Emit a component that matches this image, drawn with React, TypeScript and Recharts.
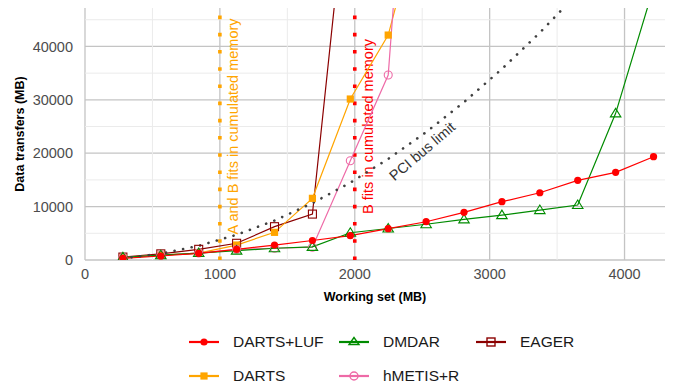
import React from "react";
import {
  LineChart, Line, XAxis, YAxis, CartesianGrid, ReferenceLine, ReferenceDot, Legend,
} from "recharts";

const workingSet = [281, 562, 843, 1124, 1405, 1686, 1967, 2248, 2529, 2810, 3091, 3372, 3653, 3934, 4215];
const dartsLuf = [310, 750, 1250, 2000, 2800, 3650, 4550, 5860, 7170, 8930, 10920, 12600, 14920, 16420, 19350];
const dmdar = [500, 900, 1300, 1750, 2200, 2450, 5100, 5900, 6700, 7600, 8400, 9350, 10300, 27470, 51000];
const eager = [550, 1150, 2000, 3130, 6240, 8600, 76000];
const darts = [400, 900, 1300, 2800, 5180, 11550, 30150, 42130, 69000];
const hmetis = [450, 900, 1300, 2000, 2200, 2400, 18600, 34640, 130000];
const pciLimit = [300, 1180, 2660, 4730, 7390, 10650, 14490, 18930, 23950, 29570, 35780, 42580, 49980];

const xTicks = [0, 1000, 2000, 3000, 4000];
const yTicks = [0, 10000, 20000, 30000, 40000];
const xMinor = [500, 1500, 2500, 3500];
const yMinor = [5000, 15000, 25000, 35000, 45000];

const C = {
  luf: "#FF0000",
  dmdar: "#008B00",
  eager: "#8B0000",
  darts: "#FFA500",
  hmetis: "#EE6AA7",
  pci: "#404040",
};

const data = workingSet.map((x, i) => ({
  x,
  luf: dartsLuf[i] ?? null,
  dmdar: dmdar[i] ?? null,
  eager: eager[i] ?? null,
  darts: darts[i] ?? null,
  hmetis: hmetis[i] ?? null,
  pci: pciLimit[i] ?? null,
}));

const FONT = "'Liberation Sans', Arial, sans-serif";

const CircleFilled = (p: any) => {
  if (p.cy == null || p.value == null) return null;
  return <circle key={p.key} cx={p.cx} cy={p.cy} r={3.6} fill={C.luf} stroke="none" />;
};
const TriangleOpen = (p: any) => {
  if (p.cy == null || p.value == null) return null;
  const s = 5;
  const pts = `${p.cx},${p.cy - s} ${p.cx - s * 1.05},${p.cy + s * 0.7} ${p.cx + s * 1.05},${p.cy + s * 0.7}`;
  return <polygon key={p.key} points={pts} fill="none" stroke={C.dmdar} strokeWidth={1.1} />;
};
const SquareOpen = (p: any) => {
  if (p.cy == null || p.value == null) return null;
  return <rect key={p.key} x={p.cx - 4} y={p.cy - 4} width={8} height={8} fill="none" stroke={C.eager} strokeWidth={1.1} />;
};
const SquareFilled = (p: any) => {
  if (p.cy == null || p.value == null) return null;
  return <rect key={p.key} x={p.cx - 3.6} y={p.cy - 3.6} width={7.2} height={7.2} fill={C.darts} stroke="none" />;
};
const CircleOpen = (p: any) => {
  if (p.cy == null || p.value == null) return null;
  return <circle key={p.key} cx={p.cx} cy={p.cy} r={4} fill="none" stroke={C.hmetis} strokeWidth={1.1} />;
};

const VLabel = (props: any) => {
  const vb = props.viewBox || {};
  const x = vb.x + 14;
  const y = vb.y + vb.height * 0.47;
  return (
    <text x={x} y={y} transform={`rotate(-90 ${x} ${y})`} textAnchor="middle" dominantBaseline="middle"
      fill={props.color} fontSize={14.5} fontFamily={FONT}>{props.text}</text>
  );
};

const PciLabel = (props: any) => {
  const vb = props.viewBox || {};
  const x = vb.cx ?? vb.x;
  const y = vb.cy ?? vb.y;
  return (
    <text x={x} y={y} transform={`rotate(-40.5 ${x} ${y})`} textAnchor="middle" dominantBaseline="middle"
      fill="#333333" fontSize={14.5} fontFamily={FONT}>PCI bus limit</text>
  );
};

const legendItems = [
  { name: "DARTS+LUF", color: C.luf, shape: "circleFilled", left: 189, top: 37 },
  { name: "DMDAR", color: C.dmdar, shape: "triangle", left: 339, top: 37 },
  { name: "EAGER", color: C.eager, shape: "squareOpen", left: 476, top: 37 },
  { name: "DARTS", color: C.darts, shape: "squareFilled", left: 189, top: 71 },
  { name: "hMETIS+R", color: C.hmetis, shape: "circleOpen", left: 339, top: 71 },
];

const KeyIcon = ({ color, shape }: { color: string; shape: string }) => {
  let m: React.ReactNode = null;
  if (shape === "circleFilled") m = <circle cx={15} cy={8} r={3.6} fill={color} />;
  if (shape === "triangle") m = <polygon points="15,3.5 10,10.5 20,10.5" fill="none" stroke={color} strokeWidth={1.4} />;
  if (shape === "squareOpen") m = <rect x={11} y={4} width={8} height={8} fill="none" stroke={color} strokeWidth={1.4} />;
  if (shape === "squareFilled") m = <rect x={11.4} y={4.4} width={7.2} height={7.2} fill={color} />;
  if (shape === "circleOpen") m = <circle cx={15} cy={8} r={4} fill="none" stroke={color} strokeWidth={1.4} />;
  return (
    <svg width={30} height={16} style={{ position: "absolute", left: 0, top: -8 }}>
      <line x1={0} y1={8} x2={30} y2={8} stroke={color} strokeWidth={2.2} />
      {m}
    </svg>
  );
};

const LegendContent = () => (
  <div style={{ position: "relative", width: 677, height: 80, fontFamily: FONT }}>
    {legendItems.map((it) => (
      <div key={it.name} style={{ position: "absolute", left: it.left, top: it.top, height: 0 }}>
        <KeyIcon color={it.color} shape={it.shape} />
        <span style={{ position: "absolute", left: 44, top: -10, fontSize: 15.5, color: "#1a1a1a", whiteSpace: "nowrap", lineHeight: "20px" }}>
          {it.name}
        </span>
      </div>
    ))}
  </div>
);

export default function App() {
  return (
    <div style={{ position: "absolute", left: 0, top: 0, background: "#fff" }}>
      <LineChart width={677} height={385} data={data} margin={{ top: 8, right: 12, left: 0, bottom: 0 }}>
        <CartesianGrid stroke="#C4C4C4" strokeWidth={1.3} horizontalValues={yTicks} verticalValues={xTicks} />
        {xMinor.map((v) => (
          <ReferenceLine key={"xm" + v} x={v} stroke="#EBEBEB" strokeWidth={1} />
        ))}
        {yMinor.map((v) => (
          <ReferenceLine key={"ym" + v} y={v} stroke="#EBEBEB" strokeWidth={1} />
        ))}
        <XAxis dataKey="x" type="number" domain={[0, 4300]} ticks={xTicks} axisLine={false} tickLine={false}
          tickSize={6} tickMargin={3} height={45} allowDataOverflow
          tick={{ fill: "#4D4D4D", fontSize: 14.5, fontFamily: FONT }}
          label={{ value: "Working set (MB)", position: "insideBottom", offset: 4, fill: "#000", fontSize: 12.5, fontWeight: "bold", fontFamily: FONT }} />
        <YAxis type="number" domain={[0, 47200]} ticks={yTicks} axisLine={false} tickLine={false}
          tickSize={6} tickMargin={6} width={85} allowDataOverflow
          tick={{ fill: "#4D4D4D", fontSize: 14.5, fontFamily: FONT }}
          label={{ value: "Data transfers (MB)", angle: -90, position: "insideLeft", offset: 20, fill: "#000", fontSize: 12.5, fontWeight: "bold", fontFamily: FONT, style: { textAnchor: "middle" } }} />
        <ReferenceLine x={1000} stroke={C.darts} strokeWidth={3.6} strokeDasharray="3.6 13.6"
          label={<VLabel text="A and B fits in cumulated memory" color={C.darts} />} />
        <ReferenceLine x={2000} stroke={C.luf} strokeWidth={3.6} strokeDasharray="3.6 13.6"
          label={<VLabel text="B fits in cumulated memory" color={C.luf} />} />
        <ReferenceDot x={2506} y={20200} r={0} fill="none" stroke="none" label={<PciLabel />} />
        <Line dataKey="eager" stroke={C.eager} strokeWidth={1.2} dot={SquareOpen} isAnimationActive={false} connectNulls={false} legendType="none" />
        <Line dataKey="darts" stroke={C.darts} strokeWidth={1.2} dot={SquareFilled} isAnimationActive={false} legendType="none" />
        <Line dataKey="hmetis" stroke={C.hmetis} strokeWidth={1.2} dot={CircleOpen} isAnimationActive={false} legendType="none" />
        <Line dataKey="dmdar" stroke={C.dmdar} strokeWidth={1.2} dot={TriangleOpen} isAnimationActive={false} legendType="none" />
        <Line dataKey="luf" stroke={C.luf} strokeWidth={1.2} dot={CircleFilled} isAnimationActive={false} legendType="none" />
        <Line dataKey="pci" stroke={C.pci} strokeWidth={2.6} strokeDasharray="0.1 8.6" strokeLinecap="round" dot={false} isAnimationActive={false} legendType="none" />
        <Legend verticalAlign="bottom" height={80} content={<LegendContent />} wrapperStyle={{ left: 0, width: 677 }} />
      </LineChart>
    </div>
  );
}
